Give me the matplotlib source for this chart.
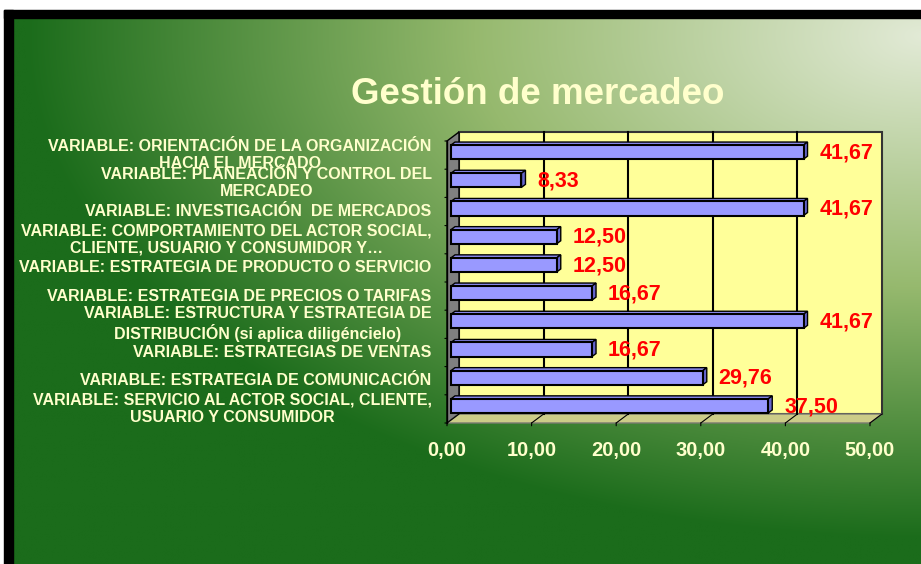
import numpy as np
import matplotlib.pyplot as plt
from matplotlib.patches import Rectangle, Polygon

# chart data
categories = [
    "VARIABLE: ORIENTACIÓN DE LA ORGANIZACIÓN\nHACIA EL MERCADO",
    "VARIABLE: PLANEACIÓN Y CONTROL DEL\nMERCADEO",
    "VARIABLE: INVESTIGACIÓN  DE MERCADOS",
    "VARIABLE: COMPORTAMIENTO DEL ACTOR SOCIAL,\nCLIENTE, USUARIO Y CONSUMIDOR Y…",
    "VARIABLE: ESTRATEGIA DE PRODUCTO O SERVICIO",
    "VARIABLE: ESTRATEGIA DE PRECIOS O TARIFAS",
    "VARIABLE: ESTRUCTURA Y ESTRATEGIA DE\nDISTRIBUCIÓN (si aplica diligéncielo)",
    "VARIABLE: ESTRATEGIAS DE VENTAS",
    "VARIABLE: ESTRATEGIA DE COMUNICACIÓN",
    "VARIABLE: SERVICIO AL ACTOR SOCIAL, CLIENTE,\nUSUARIO Y CONSUMIDOR",
]
values = [41.67, 8.33, 41.67, 12.50, 12.50, 16.67, 41.67, 16.67, 29.76, 37.50]
x_ticks = [0, 10, 20, 30, 40, 50]
title = "Gestión de mercadeo"


def fmt(v):
    return f"{v:.2f}".replace(".", ",")


plt.rcParams['font.family'] = ['Liberation Sans', 'DejaVu Sans']

W, H, DPI = 921, 564, 100
fig = plt.figure(figsize=(W / DPI, H / DPI), dpi=DPI)
fig.patch.set_facecolor('white')

# background: green gradient + black frame
bg = fig.add_axes([0, 0, 1, 1])
bg.set_xlim(0, W)
bg.set_ylim(H, 0)
bg.set_axis_off()
yy, xx = np.mgrid[0:H, 0:W]
u = (xx - 13) / (W - 13)
v = (yy - 18) / (H - 18)
d = np.sqrt((1 - u) ** 2 + (v / 0.95) ** 2)
t = np.clip(1 - d, 0, 1)
dark = np.array([27, 108, 27]) / 255
mid = np.array([150, 185, 110]) / 255
light = np.array([226, 234, 214]) / 255
t1 = np.clip(t / 0.5, 0, 1)[..., None]
t2 = np.clip((t - 0.5) / 0.5, 0, 1)[..., None]
img = dark + (mid - dark) * t1 + (light - mid) * t2
bg.imshow(img, extent=(13, W, H, 18), aspect='auto', interpolation='bilinear')
bg.add_patch(Rectangle((4, 10), W - 4, 8, color='black'))
bg.add_patch(Rectangle((4, 10), 9, H - 10, color='black'))

# main (front plane) axes
ax = fig.add_axes([447 / W, (H - 423) / H, 423 / W, 282 / H])
n = len(categories)
ax.set_xlim(0, 50)
ax.set_ylim(n - 0.5, -0.5)
ax.set_axis_off()

# depth offset of the back wall, converted from pixels to data units
DX, DY = 12, 9
ox = DX * 50 / 423
oy = -DY * n / 282
top, bot = -0.5, n - 0.5

ax.add_patch(Rectangle((ox, top + oy), 50, n, facecolor='#FFFF99',
                       edgecolor='#333333', lw=1.5, clip_on=False, zorder=1))
ax.add_patch(Polygon([(0, top), (0, bot), (ox, bot + oy), (ox, top + oy)],
                     closed=True, facecolor='#808080', edgecolor='black',
                     lw=1.0, clip_on=False, zorder=1))
ax.add_patch(Polygon([(0, bot), (50, bot), (50 + ox, bot + oy), (ox, bot + oy)],
                     closed=True, facecolor='#CCCC88', edgecolor='#7A7A70',
                     lw=1.0, clip_on=False, zorder=1))
for tk in x_ticks[1:-1]:
    ax.plot([tk + ox, tk + ox], [top + oy, bot + oy], color='black', lw=1.5,
            clip_on=False, zorder=2)
for tk in x_ticks:
    ax.plot([tk, tk + ox], [bot, bot + oy], color='black', lw=0.8,
            clip_on=False, zorder=2)
    ax.annotate("", xy=(tk, bot), xytext=(0, -4), textcoords='offset points',
                arrowprops=dict(arrowstyle='-', color='black', lw=0.8))
    ax.annotate(fmt(tk), xy=(tk, bot), xytext=(0, -19.5), textcoords='offset points',
                ha='center', va='center', fontsize=14.5, fontweight='bold',
                color='#FFFFCC', annotation_clip=False)
ax.plot([0, 0], [top, bot], color='black', lw=1.0, clip_on=False, zorder=2)
for k in range(n + 1):
    ax.annotate("", xy=(0, k - 0.5), xytext=(-3.5, 0), textcoords='offset points',
                arrowprops=dict(arrowstyle='-', color='black', lw=0.8))

# 3D bars
h = 0.5
f1x, f1y = ox / 3, oy / 3
f2x, f2y = 2 * ox / 3, 2 * oy / 3
ypos = np.arange(n)
ax.barh(ypos + f1y, values, left=f1x, height=h, color='#9999FF',
        edgecolor='black', lw=1.5, zorder=4, clip_on=False)
for i, val in enumerate(values):
    yt = i - h / 2
    yb = i + h / 2
    ax.add_patch(Polygon([(f1x, yt + f1y), (val + f1x, yt + f1y),
                          (val + f2x, yt + f2y), (f2x, yt + f2y)],
                         closed=True, facecolor='#8C8CF0', edgecolor='black',
                         lw=1.0, zorder=3, clip_on=False))
    ax.add_patch(Polygon([(val + f1x, yt + f1y), (val + f1x, yb + f1y),
                          (val + f2x, yb + f2y), (val + f2x, yt + f2y)],
                         closed=True, facecolor='#6666CC', edgecolor='black',
                         lw=1.0, zorder=3, clip_on=False))
    ax.annotate(fmt(val), xy=(val + f1x, i + f1y), xytext=(11.5, -0.5),
                textcoords='offset points', ha='left', va='center',
                fontsize=15.5, fontweight='bold', color='#FF0000',
                annotation_clip=False, zorder=5)

# category labels
for i, lab in enumerate(categories):
    ax.annotate(lab, xy=(0, i), xytext=(-11, 0), textcoords='offset points',
                ha='right', va='center', multialignment='center',
                fontsize=11.5, fontweight='bold', color='#FFFFCC',
                linespacing=1.18, annotation_clip=False)

fig.text(538 / W, 1 - 95 / H, title, ha='center', va='center',
         fontsize=26.5, fontweight='bold', color='#FFFFCC')

fig.savefig('out.png', dpi=DPI)
